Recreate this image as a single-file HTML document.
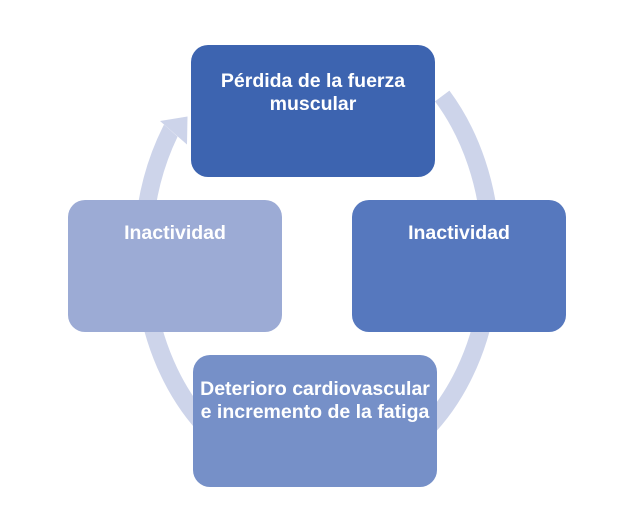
<!DOCTYPE html>
<html>
<head>
<meta charset="utf-8">
<style>
  html, body { margin: 0; padding: 0; background: #ffffff; }
  body { width: 629px; height: 518px; overflow: hidden; }
  svg { display: block; }
  text { font-family: "Liberation Sans", "DejaVu Sans", sans-serif; font-weight: bold; font-size: 19.5px; fill: #ffffff; }
</style>
</head>
<body>
<svg width="629" height="518" viewBox="0 0 629 518" xmlns="http://www.w3.org/2000/svg">
  <rect x="0" y="0" width="629" height="518" fill="#ffffff"/>

  <!-- ring arcs -->
  <g fill="none" stroke="#cdd4ea" stroke-width="18" stroke-linecap="butt">
    <path d="M442.2,96 A174,226 0 0 1 490.8,241.2"/>
    <path d="M487.2,300 A174,226 0 0 1 424.1,431.1"/>
    <path d="M209.9,431.1 A174,226 0 0 1 146.8,300"/>
  </g>
  <!-- left-top arc with arrowhead -->
  <path d="M134.7,232.5 A183,235 0 0 1 164,124.6 L177.6,136.6 A165,217 0 0 0 152.6,234.1 Z" fill="#cdd4ea"/>
  <polygon points="160,121 187.5,116.5 187,144.5" fill="#cdd4ea"/>

  <!-- boxes -->
  <rect x="191" y="45" width="244" height="132" rx="17" ry="17" fill="#3d64b0"/>
  <rect x="352" y="200" width="214" height="132" rx="17" ry="17" fill="#5678be"/>
  <rect x="193" y="355" width="244" height="132" rx="17" ry="17" fill="#7690c8"/>
  <rect x="68" y="200" width="214" height="132" rx="17" ry="17" fill="#9cabd5"/>

  <!-- labels -->
  <text x="313" y="87" text-anchor="middle">Pérdida de la fuerza</text>
  <text x="313" y="110" text-anchor="middle">muscular</text>

  <text x="459" y="239" text-anchor="middle">Inactividad</text>

  <text x="315" y="395" text-anchor="middle">Deterioro cardiovascular</text>
  <text x="315" y="418" text-anchor="middle">e incremento de la fatiga</text>

  <text x="175" y="239" text-anchor="middle">Inactividad</text>
</svg>
</body>
</html>
